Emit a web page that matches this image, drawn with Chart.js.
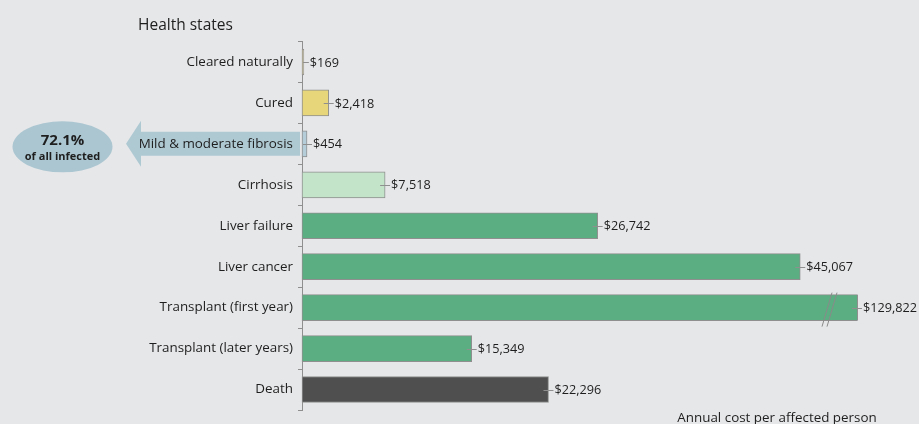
<!DOCTYPE html>
<html>
<head>
<meta charset="utf-8">
<script src="https://cdn.jsdelivr.net/npm/chart.js@4/dist/chart.umd.min.js"></script>
<style>
  html, body { margin: 0; padding: 0; background: #e6e7e9; }
  #wrap { width: 919px; height: 424px; position: relative; }
</style>
</head>
<body>
<div id="wrap"><canvas id="c" width="919" height="424"></canvas></div>
<script>
const categories = [
  "Cleared naturally",
  "Cured",
  "Mild & moderate fibrosis",
  "Cirrhosis",
  "Liver failure",
  "Liver cancer",
  "Transplant (first year)",
  "Transplant (later years)",
  "Death"
];
const annualCost = [169, 2418, 454, 7518, 26742, 45067, 129822, 15349, 22296];
const barColors = ["#d8c99c", "#e8d67a", "#b5cdd9", "#c3e4c9", "#5aae81", "#5aae81", "#5aae81", "#5aae81", "#4f4f4f"];
const axisMax = 50200;          // axis is broken beyond this value
const brokenCategory = "Transplant (first year)";
const calloutPercent = "72.1%";
const calloutText = "of all infected";
const calloutCategory = "Mild & moderate fibrosis";
const titleText = "Health states";
const axisNote = "Annual cost per affected person";

const FONT = "'Open Sans', Lato, sans-serif";

const fmt = v => "$" + v.toLocaleString("en-US");

const decorPlugin = {
  id: "decor",
  beforeDraw(chart) {
    const ctx = chart.ctx;
    const y = chart.scales.y;
    const area = chart.chartArea;
    ctx.save();
    // title
    ctx.fillStyle = "#1e1e1e";
    ctx.font = "15.5px " + FONT;
    ctx.textAlign = "left";
    ctx.textBaseline = "alphabetic";
    ctx.fillText(titleText, 138, 30);
    // bottom note
    ctx.font = "13.4px " + FONT;
    ctx.textAlign = "center";
    ctx.fillText(axisNote, 777, 422);
    // callout arrow
    const cy = y.getPixelForValue(categories.indexOf(calloutCategory));
    ctx.fillStyle = "#afc9d3";
    ctx.beginPath();
    ctx.moveTo(area.left - 2, cy - 12);
    ctx.lineTo(141, cy - 12);
    ctx.lineTo(141, cy - 23);
    ctx.lineTo(126, cy);
    ctx.lineTo(141, cy + 23);
    ctx.lineTo(141, cy + 12);
    ctx.lineTo(area.left - 2, cy + 12);
    ctx.closePath();
    ctx.fill();
    // ellipse
    ctx.fillStyle = "#abc6d1";
    ctx.beginPath();
    ctx.ellipse(62.5, cy + 3, 50, 25.5, 0, 0, Math.PI * 2);
    ctx.fill();
    ctx.fillStyle = "#1e1e1e";
    ctx.textAlign = "center";
    ctx.textBaseline = "middle";
    ctx.font = "bold 15px " + FONT;
    ctx.fillText(calloutPercent, 62.5, cy - 3);
    ctx.font = "bold 11px " + FONT;
    ctx.fillText(calloutText, 62.5, cy + 13);
    ctx.restore();
  },
  afterDatasetsDraw(chart) {
    const ctx = chart.ctx;
    const area = chart.chartArea;
    const meta = chart.getDatasetMeta(0);
    ctx.save();
    meta.data.forEach((bar, i) => {
      let end = bar.x;
      const clipped = end > area.right;
      if (clipped) {
        end = area.right;
        ctx.strokeStyle = "#8f8f8f";
        ctx.lineWidth = 1;
        ctx.beginPath();
        ctx.moveTo(end + 0.5, bar.y - bar.height / 2);
        ctx.lineTo(end + 0.5, bar.y + bar.height / 2);
        ctx.stroke();
      }
      // leader tick
      ctx.strokeStyle = "#8f8f8f";
      ctx.lineWidth = 1;
      ctx.beginPath();
      ctx.moveTo(Math.max(end - 5, area.left + 1), Math.round(bar.y) + 0.5);
      ctx.lineTo(end + 5, Math.round(bar.y) + 0.5);
      ctx.stroke();
      ctx.fillStyle = "#1e1e1e";
      ctx.font = "12.7px " + FONT;
      ctx.textAlign = "left";
      ctx.textBaseline = "middle";
      ctx.fillText(fmt(annualCost[i]), end + 6, bar.y + 1);
      // axis-break marks
      if (categories[i] === brokenCategory) {
        ctx.strokeStyle = "#8a8a8a";
        const bx = area.right - 35;
        [0, 5].forEach(off => {
          ctx.beginPath();
          ctx.moveTo(bx + off, bar.y + 19);
          ctx.lineTo(bx + off + 10, bar.y - 15);
          ctx.stroke();
        });
      }
    });
    ctx.restore();
  }
};

new Chart(document.getElementById("c"), {
  type: "bar",
  data: {
    labels: categories,
    datasets: [{
      data: annualCost,
      backgroundColor: barColors,
      borderColor: "#8f8f8f",
      borderWidth: 1,
      borderSkipped: false,
      barThickness: 26,
      clip: { left: 2, top: 2, bottom: 2, right: 0 }
    }]
  },
  options: {
    indexAxis: "y",
    responsive: false,
    animation: false,
    events: [],
    layout: { padding: { top: 41.5, bottom: 14, right: 62, left: 0 } },
    plugins: { legend: { display: false }, tooltip: { enabled: false } },
    scales: {
      x: { display: false, min: 0, max: axisMax },
      y: {
        afterFit(scale) { scale.width = 302; },
        grid: {
          offset: true,
          drawOnChartArea: false,
          drawTicks: true,
          tickLength: 4,
          color: "#8f8f8f"
        },
        border: { display: true, color: "#8f8f8f", width: 1 },
        ticks: {
          color: "#1e1e1e",
          font: { family: FONT, size: 13.4 },
          padding: 5
        }
      }
    }
  },
  plugins: [decorPlugin]
});
</script>
</body>
</html>
